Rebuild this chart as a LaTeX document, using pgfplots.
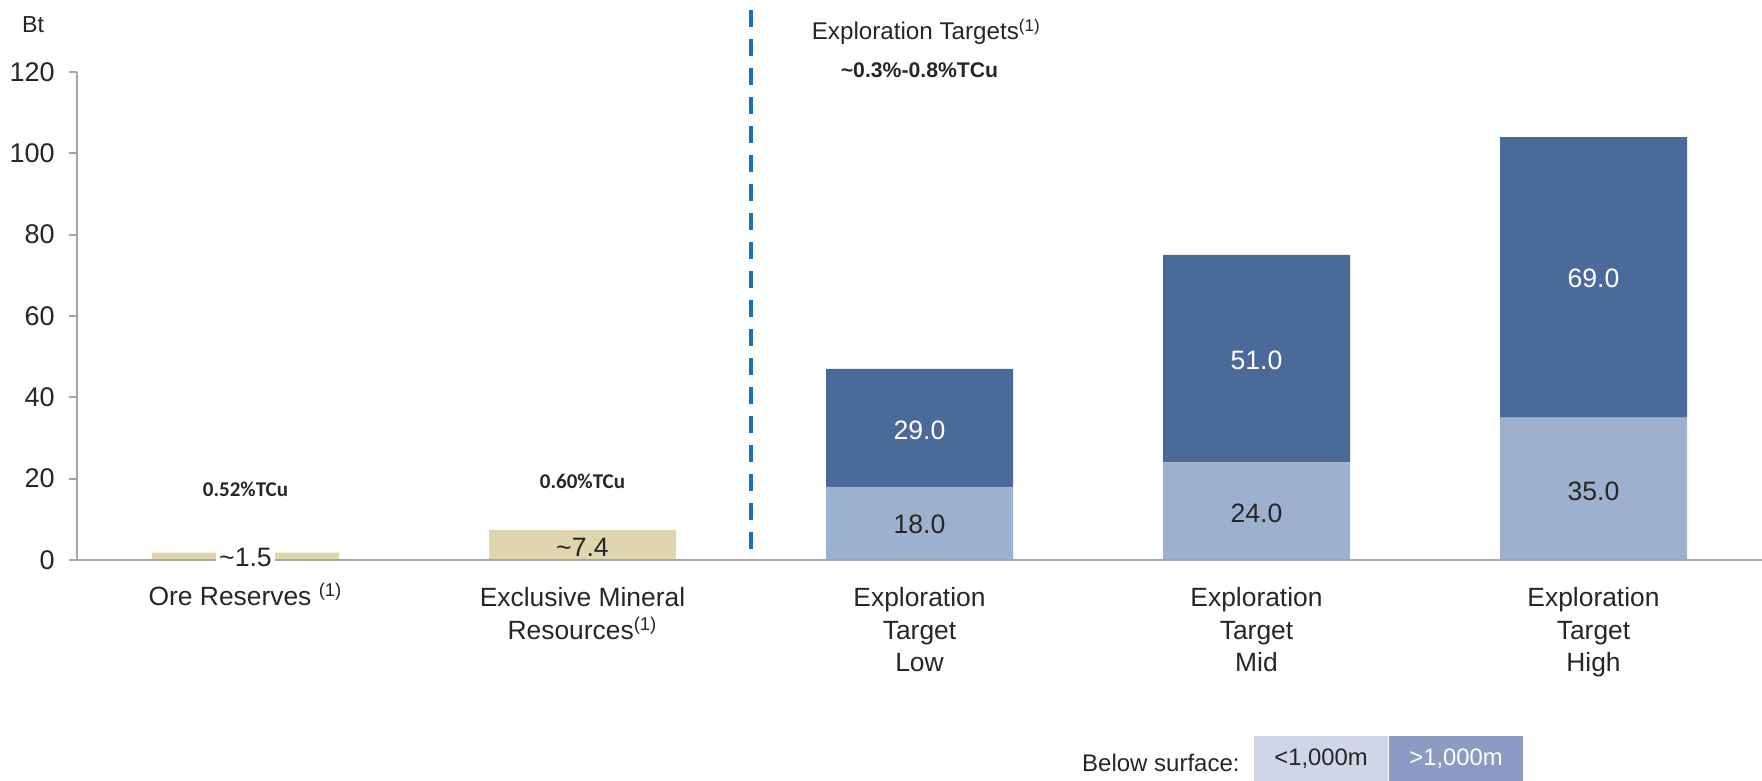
\documentclass[border=0pt]{standalone}
\usepackage{fontspec}
\setmainfont{Liberation Sans}
\newfontfamily\carlito{Carlito}
\usepackage{pgfplots}
\usepackage{pgfplotstable}
\pgfplotsset{compat=1.18}

\definecolor{tanbar}{HTML}{E0D6AE}
\definecolor{lightbar}{HTML}{9DB0CE}
\definecolor{darkbar}{HTML}{4A6B9A}
\definecolor{dashblue}{HTML}{1573B6}
\definecolor{legL}{HTML}{CFD6E7}
\definecolor{legD}{HTML}{8C9BC3}
\definecolor{axgray}{HTML}{A6A6A6}
\definecolor{txt}{HTML}{262626}

\pgfplotstableread{
x tan light dark
0 1.8 0 0
1 7.4 0 0
2 0 18 29
3 0 24 51
4 0 35 69
}\datatable

\begin{document}
\begin{tikzpicture}
\useasboundingbox (0,0) rectangle (881pt,390.5pt);
\begin{axis}[
    at={(38.5pt,110.5pt)}, anchor=south west,
    scale only axis,
    width=842.5pt, height=244pt,
    xmin=-0.5, xmax=4.5,
    ymin=0, ymax=120,
    enlargelimits=false,
    clip=false,
    axis on top,
    ybar stacked,
    bar width=93.5pt,
    axis x line=bottom,
    axis y line=left,
    axis line style={-, axgray, line width=1pt},
    xtick={0,1,2,3,4},
    xticklabels={{Ore Reserves \smash{\textsuperscript{(1)}}},{Exclusive Mineral\\Resources\textsuperscript{(1)}},{Exploration\\Target\\Low},{Exploration\\Target\\Mid},{Exploration\\Target\\High}},
    x tick label style={align=center, anchor=north, inner sep=0pt, yshift=-9.4pt,
        font=\fontsize{13.2}{16.4}\selectfont, text=txt},
    major x tick style={draw=none},
    ytick={0,20,...,120},
    y tick label style={anchor=east, inner sep=0pt, xshift=-7pt,
        font=\fontsize{13.5}{16.3}\selectfont, text=txt},
    /pgf/number format/assume math mode=true,
    tick align=outside,
    major tick length=4pt,
    major y tick style={axgray, line width=1pt},
]
\addplot[fill=tanbar, draw=none] table[x=x, y=tan] {\datatable};
\addplot[fill=lightbar, draw=none] table[x=x, y=light] {\datatable};
\addplot[fill=darkbar, draw=none] table[x=x, y=dark] {\datatable};

% divider between resources and exploration targets (drawn upwards so a dash ends at the bottom)
\draw[dashblue, line width=2.2pt, dash pattern=on 8.5pt off 6pt] (axis cs:1.5,2.7) -- (axis cs:1.5,137.7);

\node[anchor=base west, inner sep=0pt, font=\fontsize{11.6}{14}\selectfont, text=txt] at (axis cs:-0.664,129.8) {Bt};
\node[anchor=base, font=\fontsize{12.1}{14}\selectfont, text=txt] at (axis cs:2.02,127.9) {Exploration Targets\textsuperscript{(1)}};
\node[anchor=base, font=\fontsize{10.6}{12}\selectfont\bfseries, text=txt] at (axis cs:2.0,118.7) {\textasciitilde0.3\%-0.8\%TCu};
\node[anchor=base, font=\carlito\fontsize{10.5}{12}\selectfont\bfseries, text=txt] at (axis cs:0,15.6) {0.52\%TCu};
\node[anchor=base, font=\carlito\fontsize{10.5}{12}\selectfont\bfseries, text=txt] at (axis cs:1,17.5) {0.60\%TCu};

% anchors for the value labels, drawn after the axis so they sit above the bars
\coordinate (v0) at (axis cs:0,0.6);
\coordinate (v1) at (axis cs:1,3.0);
\coordinate (v2a) at (axis cs:2,8.7);
\coordinate (v2b) at (axis cs:2,31.8);
\coordinate (v3a) at (axis cs:3,11.5);
\coordinate (v3b) at (axis cs:3,49);
\coordinate (v4a) at (axis cs:4,17);
\coordinate (v4b) at (axis cs:4,69.3);
\end{axis}

\tikzset{vl/.style={font=\fontsize{13.3}{16}\selectfont}}
\node[vl, text=txt, fill=white, inner sep=1.5pt, minimum width=26.5pt] at (v0) {\textasciitilde1.5};
\node[vl, text=txt] at (v1) {\textasciitilde7.4};
\node[vl, text=txt] at (v2a) {18.0};
\node[vl, text=white] at (v2b) {29.0};
\node[vl, text=txt] at (v3a) {24.0};
\node[vl, text=white] at (v3b) {51.0};
\node[vl, text=txt] at (v4a) {35.0};
\node[vl, text=white] at (v4b) {69.0};

% legend
\fill[legL] (627pt,0) rectangle (694pt,22.5pt);
\fill[legD] (694.5pt,0) rectangle (761.5pt,22.5pt);
\node[font=\fontsize{11.9}{14}\selectfont, text=txt] at (660.5pt,11pt) {<1,000m};
\node[font=\fontsize{11.9}{14}\selectfont, text=white] at (728pt,11pt) {>1,000m};
\node[anchor=east, inner sep=0pt, font=\fontsize{12}{14}\selectfont, text=txt] at (620pt,9pt) {Below surface:};
\end{tikzpicture}
\end{document}
